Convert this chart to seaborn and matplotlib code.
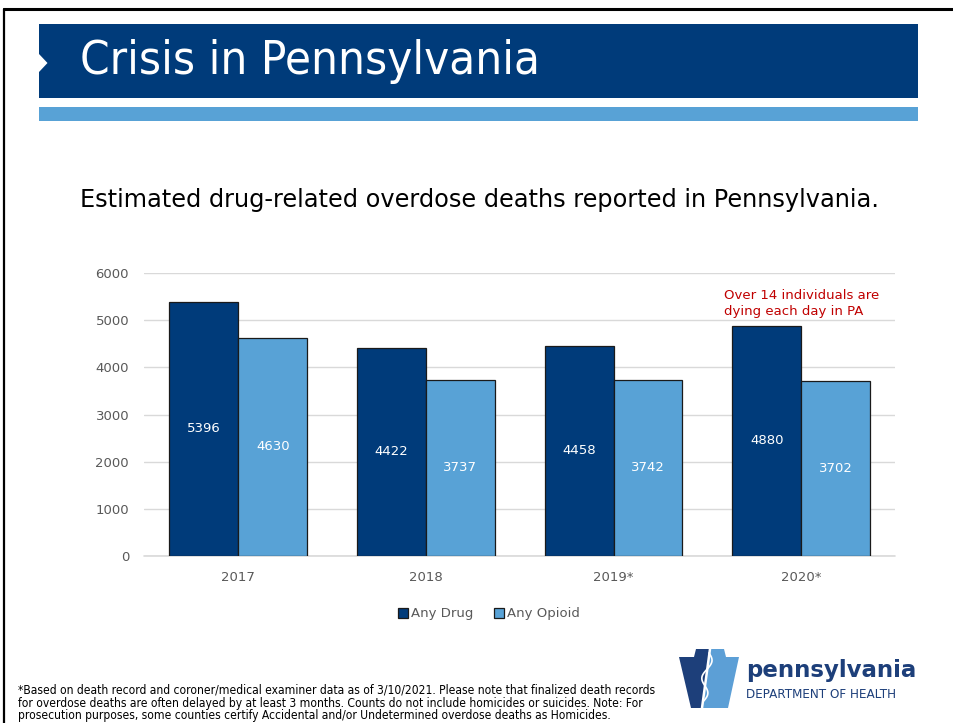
import matplotlib
matplotlib.use("Agg")
import matplotlib.pyplot as plt
from matplotlib.patches import Rectangle, Polygon
from matplotlib.lines import Line2D
from matplotlib import font_manager
from matplotlib.font_manager import FontProperties
import numpy as np
import pandas as pd
import seaborn as sns

# ---- data ----
years = ["2017", "2018", "2019*", "2020*"]
any_drug = [5396, 4422, 4458, 4880]
any_opioid = [4630, 3737, 3742, 3702]
series_names = ["Any Drug", "Any Opioid"]
y_ticks = [0, 1000, 2000, 3000, 4000, 5000, 6000]

title = "Crisis in Pennsylvania"
subtitle = "Estimated drug-related overdose deaths reported in Pennsylvania."
callout = "Over 14 individuals are\ndying each day in PA"
footnote_lines = [
    "*Based on death record and coroner/medical examiner data as of 3/10/2021. Please note that finalized death records",
    "for overdose deaths are often delayed by at least 3 months. Counts do not include homicides or suicides. Note: For",
    "prosecution purposes, some counties certify Accidental and/or Undetermined overdose deaths as Homicides.",
]
logo_name = "pennsylvania"
logo_dept = "DEPARTMENT OF HEALTH"

# ---- style ----
DARK = "#003B7A"
LIGHT = "#58A2D6"
GREY_TEXT = "#595959"
GRID = "#D9D9D9"
RED = "#C00000"
EDGE = "#1A1A1A"

sns.set_theme(style="white")
plt.rcParams["font.family"] = ["DejaVu Sans"]


def narrow_font():
    """Pick a condensed sans face if one is installed, else plain DejaVu Sans."""
    fl = font_manager.fontManager.ttflist
    def regular(f):
        return f.style == "normal" and f.weight in (400, "normal", "regular")
    prefs = [
        lambda f: f.name == "DejaVu Sans" and f.stretch == "condensed" and regular(f),
        lambda f: "DejaVu Sans Condensed" in f.name and regular(f),
        lambda f: f.name == "Liberation Sans Narrow" and regular(f),
        lambda f: ("Condensed" in f.name or "Narrow" in f.name) and regular(f),
        lambda f: f.stretch in ("condensed", "semi-condensed") and regular(f),
    ]
    for p in prefs:
        for f in fl:
            if p(f):
                return FontProperties(fname=f.fname)
    return FontProperties(family="DejaVu Sans")


NARROW = narrow_font()

W, H = 954, 723
fig = plt.figure(figsize=(W / 100, H / 100), dpi=100)
fig.patch.set_facecolor("white")


def fx(px):
    return np.asarray(px) / W


def fy(py):
    return 1 - np.asarray(py) / H


def fit_width(txt, width_px):
    r = fig.canvas.get_renderer()
    w = txt.get_window_extent(renderer=r).width
    txt.set_fontsize(txt.get_fontsize() * width_px / w)
    return txt.get_fontsize()


# ---- slide frame and header ----
fig.add_artist(Line2D([fx(4), fx(954)], [fy(9), fy(9)], color="black", lw=2.2,
                      transform=fig.transFigure))
fig.add_artist(Line2D([fx(4.5), fx(4.5)], [fy(9), fy(723)], color="black", lw=1.6,
                      transform=fig.transFigure))
fig.add_artist(Rectangle((fx(39), fy(98)), fx(918) - fx(39), (98 - 24) / H,
                         transform=fig.transFigure, color=DARK, lw=0))
fig.add_artist(Rectangle((fx(39), fy(121)), fx(918) - fx(39), (121 - 107) / H,
                         transform=fig.transFigure, color=LIGHT, lw=0))
fig.add_artist(Polygon([(fx(39), fy(54)), (fx(47.5), fy(63)), (fx(39), fy(72))],
                       closed=True, transform=fig.transFigure, color="white", lw=0))

t_title = fig.text(fx(80), fy(62), title, color="white", fontproperties=NARROW,
                   ha="left", va="center")
t_title.set_fontsize(36)
fit_width(t_title, 460)

t_sub = fig.text(fx(479.5), fy(200), subtitle, color="black", fontsize=16,
                 ha="center", va="center")
fit_width(t_sub, 801)

# ---- chart ----
ax = fig.add_axes([fx(144.4), fy(555.7), fx(895) - fx(144.4), (555.7 - 273.3) / H])

df = pd.DataFrame({
    "year": years * 2,
    "deaths": any_drug + any_opioid,
    "series": [series_names[0]] * len(years) + [series_names[1]] * len(years),
})

sns.barplot(data=df, x="year", y="deaths", hue="series", order=years,
            hue_order=series_names, palette=[DARK, LIGHT], saturation=1,
            width=0.735, gap=0, edgecolor=EDGE, linewidth=0.9, legend=False, ax=ax)

for container, values in zip(ax.containers, [any_drug, any_opioid]):
    for bar, v in zip(container, values):
        ax.text(bar.get_x() + bar.get_width() / 2, v / 2, f"{v}",
                ha="center", va="center", color="white", fontsize=9.5)

ax.set_xlim(-0.5, len(years) - 0.5)
ax.set_ylim(0, 6000)
ax.set_yticks(y_ticks)
ax.set_yticklabels([str(t) for t in y_ticks])
ax.yaxis.grid(True, color=GRID, lw=1)
ax.set_axisbelow(True)
ax.axhline(0, color=GRID, lw=1.2, zorder=0.5, clip_on=False)
for s in ax.spines.values():
    s.set_visible(False)
ax.set_xlabel("")
ax.set_ylabel("")
ax.tick_params(axis="both", length=0, labelsize=9.5, labelcolor=GREY_TEXT)
ax.tick_params(axis="y", pad=11)
ax.tick_params(axis="x", pad=11)
ax.set_facecolor("white")

# legend
handles = [Rectangle((0, 0), 1, 1, fc=DARK, ec=EDGE, lw=0.9),
           Rectangle((0, 0), 1, 1, fc=LIGHT, ec=EDGE, lw=0.9)]
fig.legend(handles, series_names, loc="center", bbox_to_anchor=(fx(489), fy(614)),
           ncol=2, frameon=False, handlelength=0.7, handleheight=0.7,
           handletextpad=0.25, columnspacing=1.6, fontsize=9.5, labelcolor=GREY_TEXT,
           borderaxespad=0)

# callout
fig.text(fx(724), fy(303.5), callout, ha="left", va="center", color=RED,
         fontsize=9.5, linespacing=1.25)

# ---- footnote ----
foot_y = [690, 703, 716]
t0 = fig.text(fx(18), fy(foot_y[0]), footnote_lines[0], fontproperties=NARROW,
              ha="left", va="center", color="black")
t0.set_fontsize(8)
fsize = fit_width(t0, 637)
for line, yy in zip(footnote_lines[1:], foot_y[1:]):
    t = fig.text(fx(18), fy(yy), line, fontproperties=NARROW,
                 ha="left", va="center", color="black")
    t.set_fontsize(fsize)

# ---- department logo ----
LOGO_DARK = "#1D3F7A"
LOGO_LIGHT = "#5C9FD6"
left_piece = [(679, 657), (694, 657), (696, 649), (710, 649), (702, 708), (691, 708)]
right_piece = [(710, 649), (724, 649), (726, 657), (739, 657), (728, 708), (702, 708)]
fig.add_artist(Polygon(list(zip(fx([p[0] for p in left_piece]), fy([p[1] for p in left_piece]))),
                       closed=True, transform=fig.transFigure, color=LOGO_DARK, lw=0))
fig.add_artist(Polygon(list(zip(fx([p[0] for p in right_piece]), fy([p[1] for p in right_piece]))),
                       closed=True, transform=fig.transFigure, color=LOGO_LIGHT, lw=0))
# staff and serpent
fig.add_artist(Line2D([fx(710), fx(702)], [fy(649), fy(708)], color="white", lw=1.8,
                      transform=fig.transFigure))
sy = np.linspace(653, 702, 80)
sx = 709 - (sy - 653) * 7 / 55 + 4 * np.sin((sy - 653) / 49 * 3 * np.pi)
fig.add_artist(Line2D(fx(sx), fy(sy), color="white", lw=1.2, transform=fig.transFigure))

t_logo = fig.text(fx(746), fy(671), logo_name, color=LOGO_DARK, fontsize=18,
                  weight="bold", ha="left", va="center")
fit_width(t_logo, 171)
t_dept = fig.text(fx(746), fy(694), logo_dept, color=LOGO_DARK, fontsize=7,
                  ha="left", va="center")
fit_width(t_dept, 152)

fig.savefig("out.png", dpi=100, facecolor="white")
